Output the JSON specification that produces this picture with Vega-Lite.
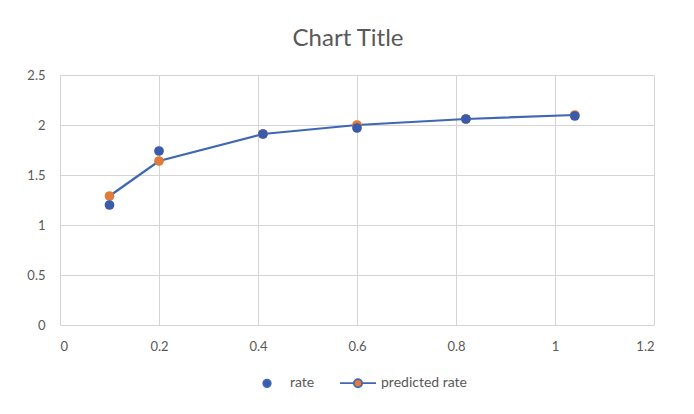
{
  "$schema": "https://vega.github.io/schema/vega-lite/v6.json",
  "autosize": {"type": "none"},
  "width": 594,
  "height": 250,
  "padding": {"left": 60, "top": 75, "right": 40, "bottom": 89},
  "background": "white",
  "title": {
    "text": "Chart Title",
    "font": "Lato",
    "fontSize": 24,
    "fontWeight": "normal",
    "color": "#595959",
    "anchor": "middle",
    "offset": 18,
    "dx": -9
  },
  "config": {
    "view": {"stroke": null},
    "axis": {
      "labelFont": "Lato",
      "labelFontSize": 13,
      "labelColor": "#595959",
      "gridColor": "#d4d4d4",
      "gridWidth": 1,
      "domain": false,
      "ticks": false,
      "title": null
    },
    "legend": {
      "labelFont": "Lato",
      "labelFontSize": 14,
      "labelColor": "#595959",
      "layout": {"bottom": {"anchor": "middle"}}
    }
  },
  "data": {
    "values": [
      {"x": 0.1, "value": 1.29, "series": "predicted rate"},
      {"x": 0.2, "value": 1.64, "series": "predicted rate"},
      {"x": 0.41, "value": 1.91, "series": "predicted rate"},
      {"x": 0.6, "value": 2.0, "series": "predicted rate"},
      {"x": 0.82, "value": 2.06, "series": "predicted rate"},
      {"x": 1.04, "value": 2.1, "series": "predicted rate"},
      {"x": 0.1, "value": 1.2, "series": "rate"},
      {"x": 0.2, "value": 1.74, "series": "rate"},
      {"x": 0.41, "value": 1.91, "series": "rate"},
      {"x": 0.6, "value": 1.97, "series": "rate"},
      {"x": 0.82, "value": 2.06, "series": "rate"},
      {"x": 1.04, "value": 2.09, "series": "rate"}
    ]
  },
  "encoding": {
    "x": {
      "field": "x",
      "type": "quantitative",
      "scale": {"domain": [0, 1.2], "nice": false},
      "axis": {"values": [0, 0.2, 0.4, 0.6, 0.8, 1, 1.2], "format": "~g", "labelPadding": 15}
    },
    "y": {
      "field": "value",
      "type": "quantitative",
      "scale": {"domain": [0, 2.5], "nice": false},
      "axis": {"values": [0, 0.5, 1, 1.5, 2, 2.5], "format": "~g", "labelPadding": 15}
    }
  },
  "layer": [
    {
      "transform": [{"filter": "datum.series === 'predicted rate'"}],
      "mark": {"type": "line", "color": "#4066b6", "strokeWidth": 2.25}
    },
    {
      "mark": {"type": "point", "filled": true, "opacity": 1, "size": 95},
      "encoding": {
        "color": {
          "field": "series",
          "type": "nominal",
          "sort": null,
          "scale": {"domain": ["rate", "predicted rate"], "range": ["#3a5ba9", "#e07b39"]},
          "legend": {
            "title": null,
            "orient": "bottom",
            "direction": "horizontal",
            "offset": 11,
            "symbolSize": 1296,
            "labelOffset": 4,
            "columnPadding": 21,
            "symbolType": {"expr": "datum.value === 'rate' ? 'M-0.21,0A0.21,0.21,0,1,1,0.21,0A0.21,0.21,0,1,1,-0.21,0Z' : 'M-1,0H-0.23M0.23,0H1M-0.23,0A0.23,0.23,0,1,1,0.23,0A0.23,0.23,0,1,1,-0.23,0Z'"},
            "symbolStrokeColor": "#4066b6",
            "symbolStrokeWidth": 1.75
          }
        }
      }
    }
  ]
}
